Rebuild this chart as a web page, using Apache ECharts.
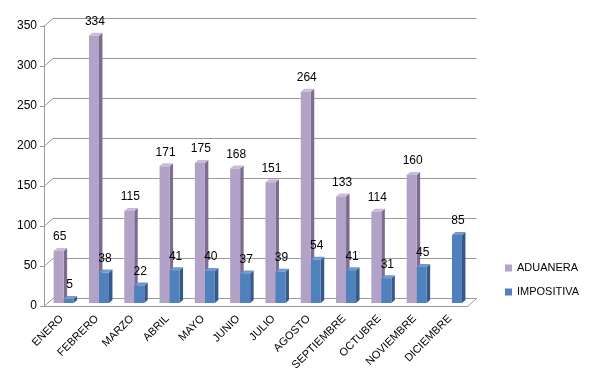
<!DOCTYPE html>
<html><head><meta charset="utf-8">
<script src="https://cdn.jsdelivr.net/npm/echarts@6/dist/echarts.min.js"></script>
<style>html,body{margin:0;padding:0;background:#fff}#c{width:590px;height:385px}</style>
</head><body><div id="c"></div>
<script>
var months = ['ENERO','FEBRERO','MARZO','ABRIL','MAYO','JUNIO','JULIO','AGOSTO','SEPTIEMBRE','OCTUBRE','NOVIEMBRE','DICIEMBRE'];
var aduanera = [65, 334, 115, 171, 175, 168, 151, 264, 133, 114, 160, null];
var impositiva = [5, 38, 22, 41, 40, 37, 39, 54, 41, 31, 45, 85];
var yTicks = [0, 50, 100, 150, 200, 250, 300, 350];

var DX = 9, DY = 8;          // wall depth
var BW = 10, BDX = 3.5, BDY = 3; // bar width, bar depth
var LIFT = 3;                // bars sit mid-depth

var styles = [
  {front:'#B3A2C7', side:'#7D6B91', top:'#C9BCD9'},
  {front:'#4F81BD', side:'#37598A', top:'#7199CC'}
];

function barRender(sIdx) {
  return function (params, api) {
    var v = api.value(1);
    if (v == null || isNaN(v)) return;
    var c = api.coord([api.value(0), v]);
    var b = api.coord([api.value(0), 0]);
    var st = styles[sIdx];
    var left = c[0] + (sIdx === 0 ? -8 : 2);
    var yt = c[1] - LIFT, yb = b[1] - LIFT;
    var r = left + BW;
    return {
      type: 'group',
      children: [
        {type:'polygon', shape:{points:[[r,yt],[r+BDX,yt-BDY],[r+BDX,yb-BDY],[r,yb]]}, style:{fill:st.side}},
        {type:'polygon', shape:{points:[[left,yt],[left+BDX,yt-BDY],[r+BDX,yt-BDY],[r,yt]]}, style:{fill:st.top}},
        {type:'rect', shape:{x:left, y:yt, width:BW, height:yb-yt}, style:{fill:st.front}},
        {type:'text', x:left + BW/2 + 1, y:yt - 8, style:{text:String(v), fill:'#000', font:'12px "Liberation Sans", Arial, sans-serif', align:'center', verticalAlign:'bottom'}}
      ]
    };
  };
}

function frameRender(params, api) {
  var n = months.length;
  var p0 = api.coord([0, 0]);
  var half = api.size([1, 0])[0] / 2;
  var x0 = p0[0] - half, x1 = api.coord([n - 1, 0])[0] + half;
  var ch = [];
  var ls = {stroke:'#9A9A9A', lineWidth:1};
  yTicks.forEach(function (t) {
    var y = Math.round(api.coord([0, t])[1]) + 0.5;
    ch.push({type:'line', shape:{x1:x0, y1:y, x2:x0+DX, y2:y-DY}, style:ls});
    ch.push({type:'line', shape:{x1:x0+DX, y1:y-DY, x2:x1+DX, y2:y-DY}, style:ls});
  });
  var yb = Math.round(p0[1]) + 0.5;
  ch.push({type:'line', shape:{x1:x1, y1:yb, x2:x1+DX, y2:yb-DY}, style:ls});
  return {type:'group', children:ch, silent:true};
}

var chart = echarts.init(document.getElementById('c'), null, {renderer:'canvas'});
chart.setOption({
  animation: false,
  backgroundColor: '#fff',
  grid: {left: 44, right: 122.4, top: 26, bottom: 79},
  legend: {
    orient: 'vertical', left: 500, top: 257,
    itemWidth: 7, itemHeight: 7, itemGap: 12,
    icon: 'rect',
    textStyle: {fontFamily: '"Liberation Sans", Arial, sans-serif', fontSize: 11, color: '#000', lineHeight: 12},
    data: [
      {name:'ADUANERA', itemStyle:{color:'#B3A2C7'}},
      {name:'IMPOSITIVA', itemStyle:{color:'#4F81BD'}}
    ]
  },
  xAxis: {
    type: 'category', data: months,
    axisLine: {lineStyle: {color: '#9A9A9A'}},
    axisTick: {length: 4, lineStyle: {color: '#9A9A9A'}},
    axisLabel: {rotate: 45, margin: 11, fontSize: 11, color: '#000', fontFamily: '"Liberation Sans", Arial, sans-serif', interval: 0}
  },
  yAxis: {
    type: 'value', min: 0, max: 350, interval: 50,
    axisLine: {show: true, lineStyle: {color: '#9A9A9A'}},
    axisTick: {show: true, length: 4, lineStyle: {color: '#9A9A9A'}},
    splitLine: {show: false},
    axisLabel: {fontSize: 12, color: '#000', margin: 7, fontFamily: '"Liberation Sans", Arial, sans-serif'}
  },
  series: [
    {type:'custom', name:'frame', renderItem: frameRender, data:[[0,0]], z:1, silent:true, legendHoverLink:false},
    {type:'custom', name:'ADUANERA', renderItem: barRender(0), data: aduanera.map(function(v,i){return [i, v];}), z:2, itemStyle:{color:'#B3A2C7'}},
    {type:'custom', name:'IMPOSITIVA', renderItem: barRender(1), data: impositiva.map(function(v,i){return [i, v];}), z:3, itemStyle:{color:'#4F81BD'}}
  ]
});
</script>
</body></html>
